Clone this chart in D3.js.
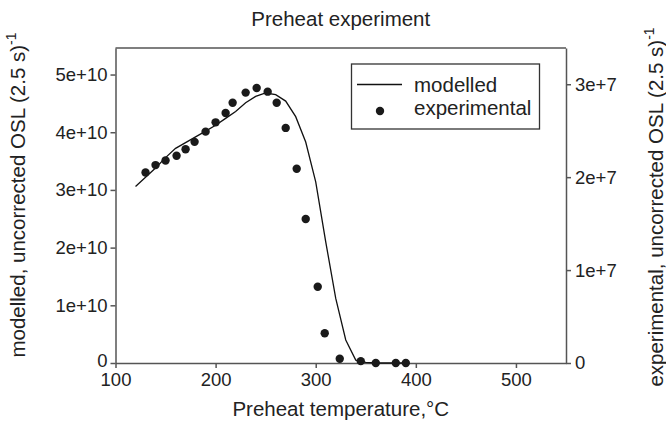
<!DOCTYPE html>
<html><head><meta charset="utf-8">
<script src="https://cdn.jsdelivr.net/npm/d3@7/dist/d3.min.js"></script>
<style>
html,body{margin:0;padding:0;background:#fff;}
text{font-family:"Liberation Sans",Arial,sans-serif;fill:#222;}
</style></head>
<body>
<svg id="chart" width="666" height="421"></svg>
<script>
// Modelled curve (left axis)
const modelT = [120,130,140,150,160,170,180,190,200,210,220,230,240,250,260,270,280,290,300,310,320,330,340,350,360,370,380,390];
const modelV = [3.06e10,3.22e10,3.38e10,3.56e10,3.72e10,3.82e10,3.92e10,4.02e10,4.12e10,4.24e10,4.36e10,4.51e10,4.62e10,4.68e10,4.65e10,4.54e10,4.27e10,3.83e10,3.14e10,2.10e10,1.12e10,0.40e10,0.05e10,0.01e10,0,0,0,0];
// Experimental points (right axis)
const expT = [130,140,150,161,170,179,190,200,210,217,230,241,252,261,270,281,290,302,309,324,345,360,380,390];
const expV = [2.05e7,2.13e7,2.18e7,2.23e7,2.30e7,2.38e7,2.49e7,2.59e7,2.69e7,2.80e7,2.91e7,2.96e7,2.92e7,2.80e7,2.53e7,2.09e7,1.55e7,0.82e7,0.32e7,0.046e7,0.02e7,0,0,0];
const xTicks = [100,200,300,400,500];
const yLeftTicks = [0,1e10,2e10,3e10,4e10,5e10];
const yRightTicks = [0,1e7,2e7,3e7];
const titleText = "Preheat experiment";
const xLabel = "Preheat temperature,\u00B0C";
const yLeftLabel = "modelled, uncorrected OSL (2.5 s)";
const yRightLabel = "experimental, uncorrected OSL (2.5 s)";
const legendLabels = ["modelled","experimental"];

const svg = d3.select("#chart");
const L = 115.5, R = 566, T = 48, B = 363;
const axisColor = "#555";
const fsTick = 18.5, fsLab = 20.5;

const x = d3.scaleLinear().domain([100,550]).range([L,R]);
const yL = d3.scaleLinear().domain([0,5.46e10]).range([B,T]);
const yR = d3.scaleLinear().domain([0,3.39e7]).range([B,T]);

function fmtE(d){ if(d===0) return "0"; const e=Math.floor(Math.log10(d)); return (d/Math.pow(10,e)) + "e+" + e; }

function styleAxis(g){
  g.select(".domain").attr("stroke",axisColor).attr("stroke-width",1.5);
  g.selectAll(".tick line").attr("stroke",axisColor).attr("stroke-width",1.5);
  g.selectAll(".tick text").attr("font-size",fsTick).attr("fill","#222").style("font-family","Liberation Sans, Arial, sans-serif");
}

// frame top
svg.append("line").attr("x1",L).attr("x2",R).attr("y1",T).attr("y2",T).attr("stroke",axisColor).attr("stroke-width",1.5);

const gx = svg.append("g").attr("transform",`translate(0,${B})`)
  .call(d3.axisBottom(x).tickValues(xTicks).tickSize(5).tickSizeOuter(0).tickPadding(5));
styleAxis(gx);
const gl = svg.append("g").attr("transform",`translate(${L},0)`)
  .call(d3.axisLeft(yL).tickValues(yLeftTicks).tickFormat(fmtE).tickSize(5).tickSizeOuter(0).tickPadding(3));
styleAxis(gl);
gl.selectAll(".tick").filter(d=>d===0).select("text").attr("dy","0.2em");
const gr = svg.append("g").attr("transform",`translate(${R},0)`)
  .call(d3.axisRight(yR).tickValues(yRightTicks).tickFormat(fmtE).tickSize(5).tickSizeOuter(0).tickPadding(4));
styleAxis(gr);

// modelled line
const line = d3.line().x((d,i)=>x(modelT[i])).y((d,i)=>yL(modelV[i]));
svg.append("path").datum(modelT).attr("d",line).attr("fill","none").attr("stroke","#111").attr("stroke-width",1.3);

// experimental points
svg.append("g").selectAll("circle").data(expT).join("circle")
  .attr("cx",(d,i)=>x(expT[i])).attr("cy",(d,i)=>yR(expV[i])).attr("r",4.2).attr("fill","#1a1a1a");

// title
svg.append("text").attr("x",(L+R)/2).attr("y",26).attr("text-anchor","middle").attr("font-size",fsLab).text(titleText);
// x label
svg.append("text").attr("x",(L+R)/2).attr("y",416).attr("text-anchor","middle").attr("font-size",fsLab).text(xLabel);
// y labels
function yLabel(txt, cx, cy){
  const t = svg.append("text").attr("transform",`translate(${cx},${cy}) rotate(-90)`).attr("text-anchor","middle").attr("font-size",fsLab);
  t.append("tspan").text(txt);
  t.append("tspan").attr("dy",-9).attr("font-size",14).text("-1");
}
yLabel(yLeftLabel, 25, 195);
yLabel(yRightLabel, 663, 207);

// legend
const lg = svg.append("g");
lg.append("rect").attr("x",351.5).attr("y",64).attr("width",188).attr("height",65).attr("fill","#fff").attr("stroke","#333").attr("stroke-width",1.3);
lg.append("line").attr("x1",357).attr("x2",402).attr("y1",84.5).attr("y2",84.5).attr("stroke","#111").attr("stroke-width",1.3);
lg.append("circle").attr("cx",380).attr("cy",111).attr("r",4.2).attr("fill","#1a1a1a");
lg.append("text").attr("x",414).attr("y",92).attr("font-size",fsLab).text(legendLabels[0]);
lg.append("text").attr("x",414).attr("y",115).attr("font-size",fsLab).text(legendLabels[1]);
</script>
</body></html>
